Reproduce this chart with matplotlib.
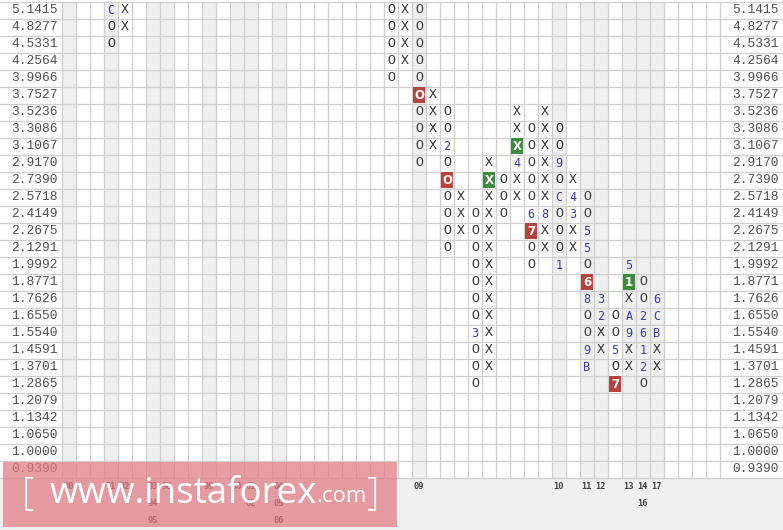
import matplotlib
matplotlib.use("Agg")
import matplotlib.pyplot as plt
from matplotlib.patches import Rectangle

# price levels, top row first
price_levels = ["5.1415", "4.8277", "4.5331", "4.2564", "3.9966", "3.7527", "3.5236",
                "3.3086", "3.1067", "2.9170", "2.7390", "2.5718", "2.4149", "2.2675",
                "2.1291", "1.9992", "1.8771", "1.7626", "1.6550", "1.5540", "1.4591",
                "1.3701", "1.2865", "1.2079", "1.1342", "1.0650", "1.0000", "0.9390"]

# point & figure columns: column index, first row (from top), marks top -> bottom
pf_cols = [3, 4, 23, 24, 25, 26, 27, 28, 29, 30, 31, 32, 33, 34, 35, 36, 37, 38, 39, 40, 41, 42]
pf_start = [0, 0, 0, 0, 0, 5, 6, 11, 12, 9, 10, 6, 7, 6, 7, 10, 11, 17, 18, 15, 16, 17]
pf_marks = ["COO", "XX", "OOOOO", "XXXX", "OOOOOOOOOO", "XXXX", "OO2OOOOOO", "XXX",
            "OOOOOOO3OOO", "XXXXXXXXXXXXX", "OOO", "XXX4XX", "OOOOO67OO", "XXXXXX8XX",
            "OO9OCOOO1", "X43XX", "OO55O68OO9B", "32XX", "OO5O7", "51XA9XX",
            "OO2612O", "6CBXX"]

# highlighted cells (col, row)
red_cells = [(25, 5), (27, 10), (33, 13), (37, 16), (39, 22)]
green_cells = [(30, 10), (32, 8), (40, 16)]

# shaded columns and year labels (col, line, text)
shaded_cols = [0, 3, 6, 7, 10, 12, 13, 15, 25, 35, 37, 38, 40, 41, 42]
year_cols = [0, 3, 4, 6, 6, 6, 7, 10, 12, 13, 13, 15, 15, 15, 25, 35, 37, 38, 40, 41, 41, 42]
year_line = [0, 0, 0, 0, 1, 2, 0, 0, 0, 0, 1, 0, 1, 2, 0, 0, 0, 0, 0, 0, 1, 0]
year_text = ["90", "91", "92", "93", "94", "95", "98", "99", "00", "01", "02", "04", "05",
             "06", "09", "10", "11", "12", "13", "14", "16", "17"]

W, H = 783, 530
n_cols, n_rows = 47, len(price_levels)
fig = plt.figure(figsize=(W / 100, H / 100), dpi=100)
fig.patch.set_facecolor("white")
ax = fig.add_axes([62 / W, 1 - 477.5 / H, 658 / W, 476 / H])
ax.set_xlim(0, n_cols)
ax.set_ylim(n_rows, 0)
ax.axis("off")

px = 1 / 14.0  # one pixel in column units
left_edge = -62 * px
right_edge = n_cols + 63 * px

# grey band under the table
ax.add_patch(Rectangle((left_edge, n_rows), right_edge - left_edge, 4, color="#f0f0f0",
                       clip_on=False, zorder=0))

for c in shaded_cols:
    ax.axvspan(c, c + 1, color="#efefef", lw=0, zorder=0)

grid_kw = dict(color="#cfcfcf", lw=0.9, zorder=1)
for c in range(n_cols + 1):
    ax.plot([c, c], [0, n_rows], clip_on=False, **grid_kw)
for r in range(n_rows + 1):
    ax.plot([left_edge, right_edge], [r, r], clip_on=False, **grid_kw)

label_kw = dict(family="Liberation Mono", fontsize=9.3, color="#505050", va="center",
                ha="right", clip_on=False)
for r, p in enumerate(price_levels):
    ax.text(-4 * px, r + 0.5, p, **label_kw)
    ax.text(n_cols + 59 * px, r + 0.5, p, **label_kw)

for c, r in red_cells:
    ax.add_patch(Rectangle((c + 0.05, r + 0.04), 0.9, 0.92, color="#b5443f", lw=0, zorder=2))
for c, r in green_cells:
    ax.add_patch(Rectangle((c + 0.05, r + 0.04), 0.9, 0.92, color="#3f8a3f", lw=0, zorder=2))
special = set(red_cells) | set(green_cells)

for c, start, marks in zip(pf_cols, pf_start, pf_marks):
    for i, m in enumerate(marks):
        r = start + i
        if (c, r) in special:
            ax.text(c + 0.5, r + 0.52, m, family="DejaVu Sans", fontsize=8.5,
                    fontweight="bold", color="white", ha="center", va="center", zorder=3)
        elif m in "XO":
            ax.text(c + 0.5, r + 0.52, m, family="Liberation Mono", fontsize=9.5,
                    color="#333333", ha="center", va="center", zorder=3)
        else:
            ax.text(c + 0.5, r + 0.52, m, family="DejaVu Sans Mono", fontsize=8.5,
                    color="#3c3caa", ha="center", va="center", zorder=3)

for c, ln, t in zip(year_cols, year_line, year_text):
    ax.text(c + 0.5, n_rows + 0.55 + ln, t, family="DejaVu Sans Mono", fontsize=6.3,
            fontweight="bold", color="#444444", ha="center", va="center", clip_on=False)

# watermark
ax.add_patch(Rectangle((-59 * px, 27.09), 394 * px, 3.82, facecolor="#df7a83", alpha=0.72,
                       lw=0, clip_on=False, zorder=5))
wm_y = 1 - 494 / H
fig.text(22 / W, wm_y, "[", fontsize=28, color="white", family="Open Sans",
         fontweight="light", va="center", ha="left", zorder=6)
fig.text(50 / W, wm_y, "www.instaforex", fontsize=26.5, color="white", family="Open Sans",
         va="center", ha="left", zorder=6)
fig.text(316 / W, 1 - 497 / H, ".com", fontsize=16, color="white", family="Open Sans",
         va="center", ha="left", zorder=6)
fig.text(367 / W, wm_y, "]", fontsize=28, color="white", family="Open Sans",
         fontweight="light", va="center", ha="left", zorder=6)

fig.savefig("out.png", dpi=100, facecolor=fig.get_facecolor())
